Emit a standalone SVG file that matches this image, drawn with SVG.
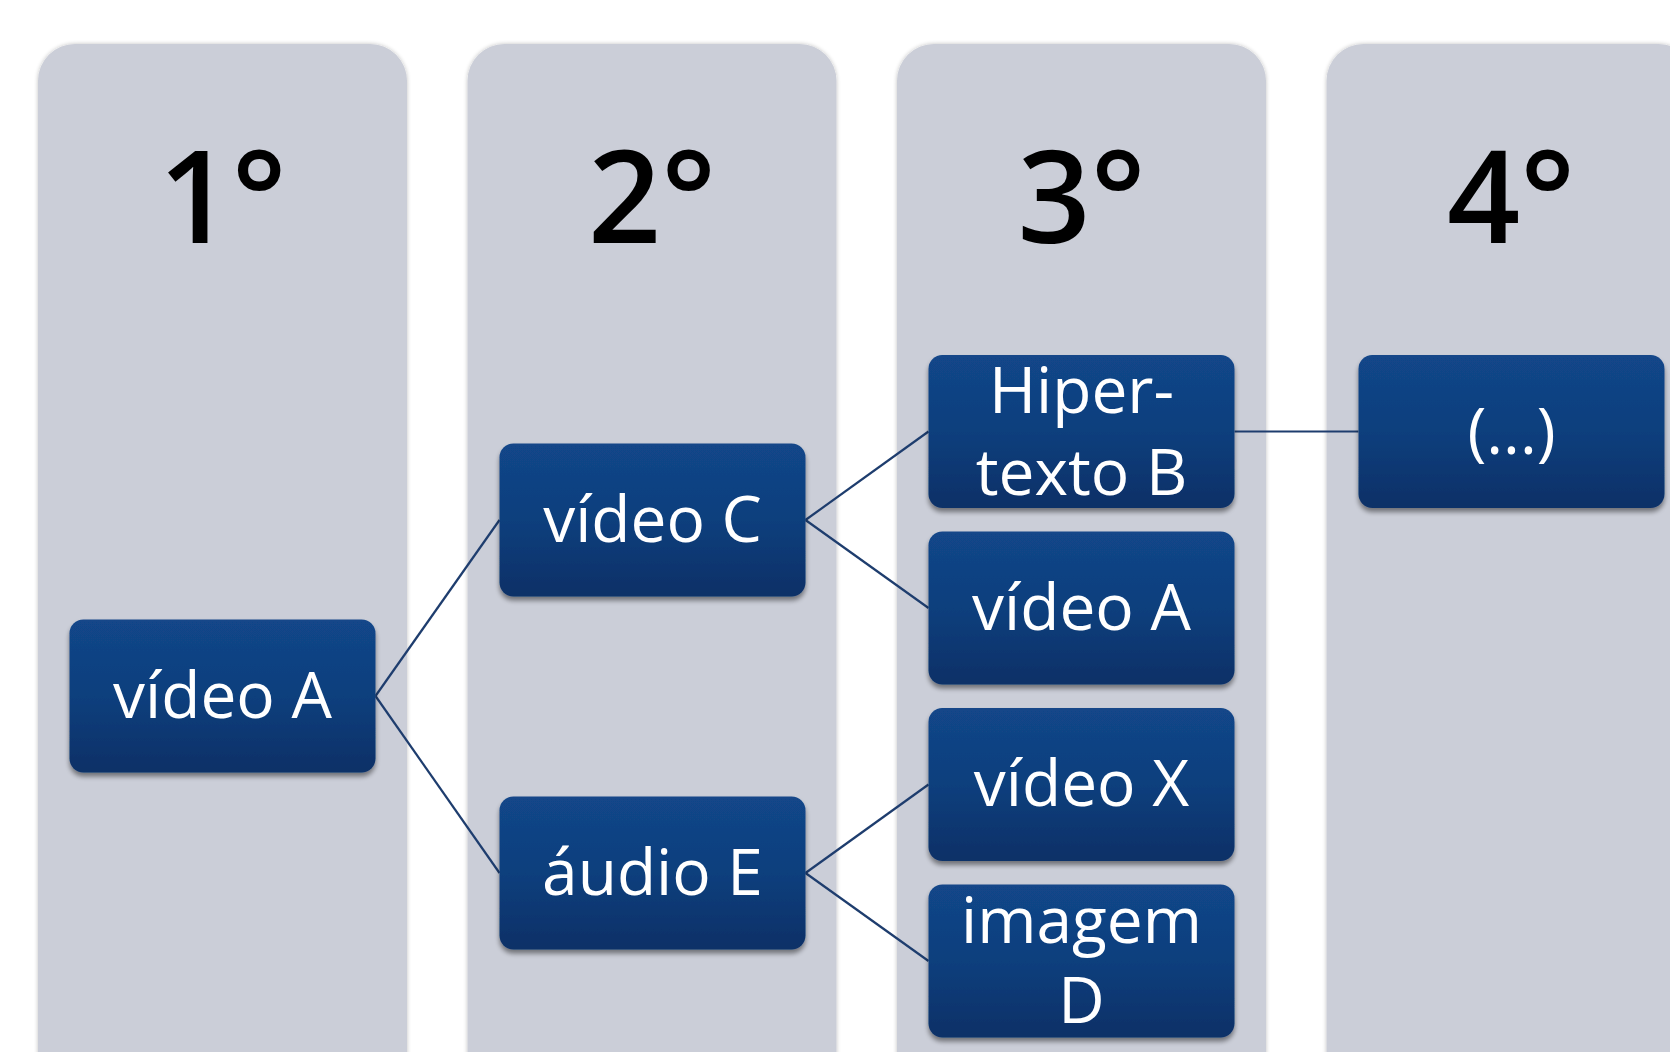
<svg xmlns="http://www.w3.org/2000/svg" width="1670" height="1052" viewBox="0 0 1670 1052">
<defs>
<linearGradient id="ng" x1="0" y1="0" x2="0" y2="1">
<stop offset="0" stop-color="#124689"/>
<stop offset="0.5" stop-color="#0f3f7d"/>
<stop offset="1" stop-color="#0b3067"/>
</linearGradient>
<filter id="cs" x="-5%" y="-5%" width="110%" height="110%">
<feGaussianBlur in="SourceAlpha" stdDeviation="2"/>
<feOffset dx="0" dy="0" result="b"/>
<feComponentTransfer><feFuncA type="linear" slope="0.25"/></feComponentTransfer>
<feMerge><feMergeNode/><feMergeNode in="SourceGraphic"/></feMerge>
</filter>
<filter id="ns" x="-10%" y="-10%" width="120%" height="130%">
<feGaussianBlur in="SourceAlpha" stdDeviation="2.5"/>
<feOffset dx="0" dy="4"/>
<feComponentTransfer><feFuncA type="linear" slope="0.45"/></feComponentTransfer>
<feMerge><feMergeNode/><feMergeNode in="SourceGraphic"/></feMerge>
</filter>
</defs>
<style>
.col{fill:#cbced8;filter:url(#cs)}
.hd{font-family:"Open Sans","Liberation Sans",sans-serif;font-size:128px;font-weight:600;fill:#000;text-anchor:middle}
.nd{fill:url(#ng);filter:url(#ns)}
.lb{font-family:"Open Sans","Liberation Sans",sans-serif;font-size:64px;fill:#fff;text-anchor:middle}
.cn{stroke:#1e3d6e;stroke-width:2.2;fill:none}
</style>
<rect width="1670" height="1052" fill="#fff"/>
<g id="col1"><rect class="col" x="38" y="44" width="369" height="1060" rx="37"/><text class="hd" x="222.5" y="243">1°</text></g>
<g id="col2"><rect class="col" x="467.5" y="44" width="369" height="1060" rx="37"/><text class="hd" x="652" y="243">2°</text></g>
<g id="col3"><rect class="col" x="897" y="44" width="369" height="1060" rx="37"/><text class="hd" x="1081.5" y="243">3°</text></g>
<g id="col4"><rect class="col" x="1326.5" y="44" width="369" height="1060" rx="37"/><text class="hd" x="1511" y="243">4°</text></g>
<g id="connectors">
<line class="cn" x1="375.5" y1="696" x2="499.5" y2="520"/>
<line class="cn" x1="375.5" y1="696" x2="499.5" y2="873"/>
<line class="cn" x1="805.5" y1="520" x2="928.5" y2="431.5"/>
<line class="cn" x1="805.5" y1="520" x2="928.5" y2="608"/>
<line class="cn" x1="805.5" y1="873" x2="928.5" y2="784.5"/>
<line class="cn" x1="805.5" y1="873" x2="928.5" y2="961"/>
<line class="cn" x1="1234.5" y1="431.5" x2="1358.5" y2="431.5"/>
</g>
<g id="n1"><rect class="nd" x="69.5" y="619.5" width="306" height="153" rx="14"/><text class="lb" x="222.5" y="718">vídeo A</text></g>
<g id="n2"><rect class="nd" x="499.5" y="443.5" width="306" height="153" rx="14"/><text class="lb" x="652.5" y="542">vídeo C</text></g>
<g id="n3"><rect class="nd" x="499.5" y="796.5" width="306" height="153" rx="14"/><text class="lb" x="652.5" y="895">áudio E</text></g>
<g id="n4"><rect class="nd" x="928.5" y="355" width="306" height="153" rx="14"/><text class="lb" x="1081.5" y="413">Hiper-</text><text class="lb" x="1081.5" y="495">texto B</text></g>
<g id="n5"><rect class="nd" x="928.5" y="531.5" width="306" height="153" rx="14"/><text class="lb" x="1081.5" y="630">vídeo A</text></g>
<g id="n6"><rect class="nd" x="928.5" y="708" width="306" height="153" rx="14"/><text class="lb" x="1081.5" y="806">vídeo X</text></g>
<g id="n7"><rect class="nd" x="928.5" y="884.5" width="306" height="153" rx="14"/><text class="lb" x="1081.5" y="943">imagem</text><text class="lb" x="1081.5" y="1023">D</text></g>
<g id="n8"><rect class="nd" x="1358.5" y="355" width="306" height="153" rx="14"/><text class="lb" x="1511.5" y="454">(...)</text></g>
</svg>
